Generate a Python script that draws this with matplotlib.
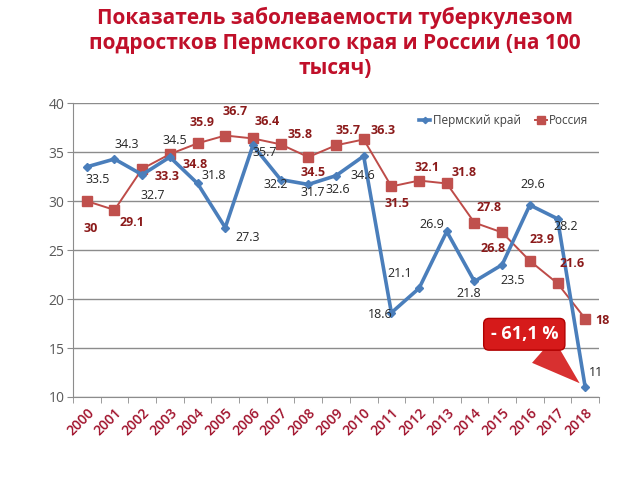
import matplotlib.pyplot as plt

years = [str(y) for y in range(2000, 2019)]
perm = [33.5, 34.3, 32.7, 34.5, 31.8, 27.3, 35.7, 32.2, 31.7, 32.6, 34.6,
        18.6, 21.1, 26.9, 21.8, 23.5, 29.6, 28.2, 11]
russia = [30, 29.1, 33.3, 34.8, 35.9, 36.7, 36.4, 35.8, 34.5, 35.7, 36.3,
          31.5, 32.1, 31.8, 27.8, 26.8, 23.9, 21.6, 18]
perm_text = ['33.5', '34.3', '32.7', '34.5', '31.8', '27.3', '35.7', '32.2', '31.7', '32.6',
             '34.6', '18.6', '21.1', '26.9', '21.8', '23.5', '29.6', '28.2', '11']
russia_text = ['30', '29.1', '33.3', '34.8', '35.9', '36.7', '36.4', '35.8', '34.5', '35.7',
               '36.3', '31.5', '32.1', '31.8', '27.8', '26.8', '23.9', '21.6', '18']

# label offsets in pixels (dx, dy), dy positive = up
perm_off = [(11, -13), (12, 15), (11, -21), (5, 17), (16, 8), (22, -10), (12, -7), (-5, -5),
            (4, -8), (2, -14), (-1, -19), (-11, -2), (-19, 15), (-15, 7), (-6, -12), (11, -16),
            (3, 21), (8, -8), (11, 15)]
russia_off = [(4, -27), (17, -13), (25, -8), (25, -10), (4, 21), (10, 24), (14, 17), (19, 10),
              (5, -15), (12, 15), (19, 9), (6, -17), (8, 13), (17, 11), (15, 15), (-9, -16),
              (12, 21), (15, 20), (17, -2)]

plt.rcParams['font.family'] = ['Open Sans', 'DejaVu Sans']

fig = plt.figure(figsize=(6.4, 4.8), dpi=100)
ax = fig.add_axes([0.114, 0.173, 0.822, 0.612])

x = list(range(len(years)))
blue = '#4A7EBB'
red = '#BE4B48'
ax.plot(x, perm, color=blue, lw=2.6, marker='D', ms=4, label='Пермский край', zorder=4)
ax.plot(x, russia, color=red, lw=1.4, marker='s', ms=6.5, mfc='#C0504D', mec='#C0504D',
        label='Россия', zorder=3)

for i in x:
    ax.annotate(perm_text[i], (i, perm[i]), xytext=perm_off[i], textcoords='offset pixels',
                ha='center', va='center', fontsize=9, color='#262626', zorder=6)
    ax.annotate(russia_text[i], (i, russia[i]), xytext=russia_off[i], textcoords='offset pixels',
                ha='center', va='center', fontsize=9, color='#8B1A1A', fontweight='bold', zorder=6)

ax.set_xlim(-0.5, len(years) - 0.5)
ax.set_ylim(10, 40)
ax.set_yticks(range(10, 41, 5))
ax.yaxis.grid(True, color='#8C8C8C', lw=1)
ax.set_axisbelow(True)
ax.set_xticks(x)
ax.set_xticklabels(years, rotation=45, ha='right', va='top', rotation_mode='anchor',
                   fontsize=10, color='#A0102A', fontweight='semibold')
ax.set_xticks([i - 0.5 for i in range(len(years) + 1)], minor=True)
ax.tick_params(axis='x', which='major', length=0, pad=6)
ax.tick_params(axis='x', which='minor', length=4, color='#8C8C8C')
ax.tick_params(axis='y', length=4, color='#8C8C8C', labelcolor='#595959', labelsize=10, pad=2)
for s in ['top', 'right']:
    ax.spines[s].set_visible(False)
for s in ['left', 'bottom']:
    ax.spines[s].set_color('#8C8C8C')

ax.legend(loc='upper right', bbox_to_anchor=(1.0, 1.0), ncol=2, frameon=False, fontsize=8.5,
          labelcolor='#404040', handlelength=1.0, handletextpad=0.2, columnspacing=1.2,
          markerscale=0.8, borderaxespad=0.5)

# callout
ax.annotate('- 61,1 %', xy=(17.8, 11.4), xytext=(15.8, 16.4), textcoords='data',
            ha='center', va='center', fontsize=13, fontweight='bold', color='white', zorder=8,
            bbox=dict(boxstyle='round,pad=0.38,rounding_size=0.3', fc='#D61A1A', ec='#B00000', lw=1),
            arrowprops=dict(arrowstyle='wedge,tail_width=1.8,shrink_factor=0.5', fc='#D83030',
                            ec='none', shrinkA=0, shrinkB=0, connectionstyle='arc3,rad=0'))

fig.text(0.523, 0.985, 'Показатель заболеваемости туберкулезом\nподростков Пермского края и России (на 100\nтысяч)',
         ha='center', va='top', fontsize=15, fontweight='bold', color='#C0102A', linespacing=1.25)

fig.savefig('out.png', dpi=100)
